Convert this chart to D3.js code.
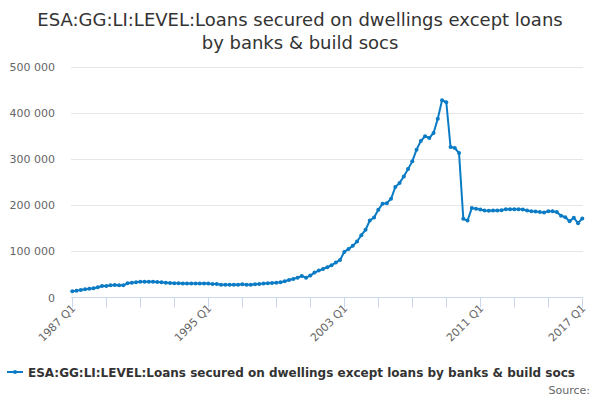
<!DOCTYPE html>
<html><head><meta charset="utf-8">
<script src="https://cdn.jsdelivr.net/npm/d3@7"></script>
<style>body{margin:0;background:#fff;font-family:"DejaVu Sans",sans-serif}</style>
</head><body><svg id="c" width="600" height="400"></svg>
<script>
const titleLines = ["ESA:GG:LI:LEVEL:Loans secured on dwellings except loans", "by banks & build socs"];
const seriesName = "ESA:GG:LI:LEVEL:Loans secured on dwellings except loans by banks & build socs";
const startYear = 1987;
const values = [
  13.4, 14.9, 16.3, 17.8,
  19.2, 19.9, 22.1, 25.0,
  25.0, 26.5, 27.2, 26.5,
  26.5, 30.8, 32.2, 33.0,
  34.4, 34.4, 34.4, 34.4,
  33.7, 33.0, 32.2, 31.5,
  30.8, 30.8, 30.4, 30.4,
  30.4, 30.1, 30.1, 30.1,
  30.1, 29.3, 29.3, 27.9,
  27.9, 27.9, 27.9, 27.9,
  28.6, 27.9, 27.9, 28.6,
  29.3, 30.1, 30.8, 31.5,
  32.2, 33.0, 35.1, 38.0,
  40.2, 43.1, 46.7, 43.1,
  47.5, 54.0, 58.3, 62.0,
  65.6, 69.9, 75.7, 81.5,
  98.9, 105.4, 112.0, 121.4,
  135.1, 146.7, 167.0, 173.6,
  190.2, 203.3, 204.7, 214.1,
  239.5, 248.2, 262.7, 278.6,
  295.3, 320.7, 339.5, 349.7,
  346.0, 356.9, 388.0, 427.9,
  423.6, 326.5, 324.3, 313.4,
  170.7, 167.0, 193.9, 192.4,
  190.9, 188.8, 188.0, 188.8,
  188.8, 189.5, 191.7, 191.7,
  191.7, 191.7, 190.9, 188.8,
  187.3, 186.6, 185.2, 184.4,
  187.3, 187.3, 185.2, 177.2,
  174.3, 165.6, 172.8, 161.2,
  171.4
].map(v => v * 1000);
const yTicks = [0, 100000, 200000, 300000, 400000, 500000];
const xLabelYears = [1987, 1995, 2003, 2011, 2017];
const sourceText = "Source:";

const svg = d3.select("#c");
const color = "#0a7bc4";
const xs = d3.scaleLinear().domain([0, values.length - 1]).range([72.3, 582.3]);
const ys = d3.scaleLinear().domain([0, 500000]).range([297.5, 67]);

// title
svg.append("text").attr("x", 300).attr("y", 26).attr("text-anchor", "middle")
  .attr("font-size", 18).attr("fill", "#333")
  .selectAll("tspan").data(titleLines).join("tspan")
  .attr("x", 300).attr("dy", (d, i) => i ? 23 : 0).text(d => d);

// grid + y labels
const fmt = v => d3.format(",")(v).replace(/,/g, " ");
const yg = svg.append("g");
yg.selectAll("line").data(yTicks.filter(d => d > 0)).join("line")
  .attr("x1", 71).attr("x2", 583).attr("y1", d => Math.round(ys(d)) + 0.5).attr("y2", d => Math.round(ys(d)) + 0.5)
  .attr("stroke", "#e6e6e6");
yg.selectAll("text").data(yTicks).join("text")
  .attr("x", 55).attr("y", d => ys(d) + 4).attr("text-anchor", "end")
  .attr("font-size", 11).attr("fill", "#666").text(fmt);

// x axis
const tickIdx = d3.range(0, values.length, 8);
svg.append("line").attr("x1", 71).attr("x2", 583).attr("y1", 297.5).attr("y2", 297.5).attr("stroke", "#ccd6eb");
svg.append("g").selectAll("line").data(tickIdx).join("line")
  .attr("x1", d => Math.round(xs(d)) + 0.5).attr("x2", d => Math.round(xs(d)) + 0.5)
  .attr("y1", 297.5).attr("y2", 307.5).attr("stroke", "#ccd6eb");
svg.append("g").selectAll("text").data(xLabelYears).join("text")
  .attr("transform", d => `translate(${xs((d - startYear) * 4) + 4},309) rotate(-45)`)
  .attr("text-anchor", "end").attr("font-size", 11).attr("fill", "#666")
  .text(d => d + " Q1");

// line
const line = d3.line().x((d, i) => xs(i)).y(d => ys(d));
svg.append("path").datum(values).attr("d", line).attr("fill", "none")
  .attr("stroke", color).attr("stroke-width", 2).attr("stroke-linejoin", "round");
svg.append("g").selectAll("circle").data(values).join("circle")
  .attr("cx", (d, i) => xs(i)).attr("cy", d => ys(d)).attr("r", 2).attr("fill", color);

// legend
svg.append("line").attr("x1", 7).attr("x2", 23).attr("y1", 372).attr("y2", 372).attr("stroke", color).attr("stroke-width", 2);
svg.append("circle").attr("cx", 15).attr("cy", 372).attr("r", 2).attr("fill", color);
svg.append("text").attr("x", 28).attr("y", 376.5).attr("font-size", 12).attr("font-weight", "bold")
  .attr("fill", "#333").text(seriesName);
svg.append("text").attr("x", 590).attr("y", 394).attr("text-anchor", "end")
  .attr("font-size", 11).attr("fill", "#666").text(sourceText);
</script></body></html>
